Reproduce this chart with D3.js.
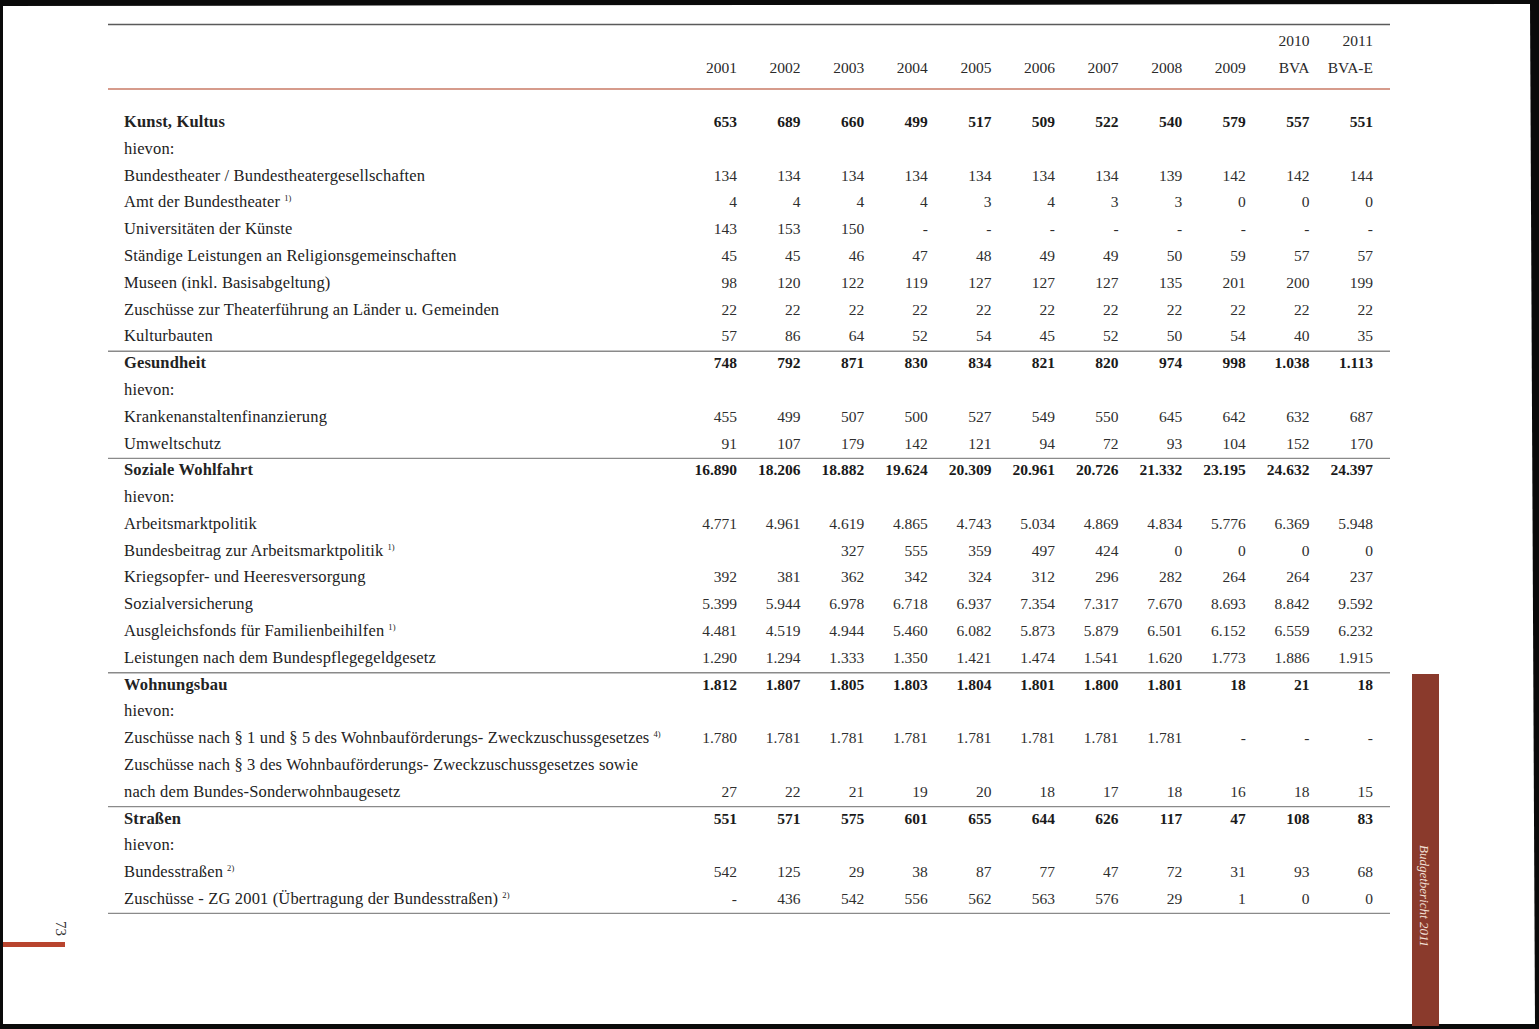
<!DOCTYPE html>
<html><head><meta charset="utf-8">
<script src="https://cdn.jsdelivr.net/npm/d3@7"></script>
<style>html,body{margin:0;padding:0;background:#000;}svg{display:block;}</style>
</head><body>
<script>
// ---- DATA ----
const yearsTop = ["", "", "", "", "", "", "", "", "", "2010", "2011"];
const yearsBottom = ["2001", "2002", "2003", "2004", "2005", "2006", "2007", "2008", "2009", "BVA", "BVA-E"];

const rowLabels = [
  "Kunst, Kultus", "hievon:", "Bundestheater / Bundestheatergesellschaften", "Amt der Bundestheater",
  "Universitäten der Künste", "Ständige Leistungen an Religionsgemeinschaften", "Museen (inkl. Basisabgeltung)",
  "Zuschüsse zur Theaterführung an Länder u. Gemeinden", "Kulturbauten",
  "Gesundheit", "hievon:", "Krankenanstaltenfinanzierung", "Umweltschutz",
  "Soziale Wohlfahrt", "hievon:", "Arbeitsmarktpolitik", "Bundesbeitrag zur Arbeitsmarktpolitik",
  "Kriegsopfer- und Heeresversorgung", "Sozialversicherung", "Ausgleichsfonds für Familienbeihilfen",
  "Leistungen nach dem Bundespflegegeldgesetz",
  "Wohnungsbau", "hievon:", "Zuschüsse nach § 1 und § 5 des Wohnbauförderungs- Zweckzuschussgesetzes",
  "Zuschüsse nach § 3 des Wohnbauförderungs- Zweckzuschussgesetzes sowie", "nach dem Bundes-Sonderwohnbaugesetz",
  "Straßen", "hievon:", "Bundesstraßen", "Zuschüsse - ZG 2001 (Übertragung der Bundesstraßen)"
];
const rowFootnotes = ["", "", "", "1)", "", "", "", "", "", "", "", "", "", "", "", "", "1)", "", "", "1)", "",
  "", "", "4)", "", "", "", "", "2)", "2)"];
const rowBold = [1,0,0,0,0,0,0,0,0, 1,0,0,0, 1,0,0,0,0,0,0,0, 1,0,0,0,0, 1,0,0,0];
// section separators are drawn above these rows, and below the last row
const sectionStarts = [9, 13, 21, 26];

const U = undefined; // blank cell, null = "-"
const rowValues = [
  [653, 689, 660, 499, 517, 509, 522, 540, 579, 557, 551],
  [],
  [134, 134, 134, 134, 134, 134, 134, 139, 142, 142, 144],
  [4, 4, 4, 4, 3, 4, 3, 3, 0, 0, 0],
  [143, 153, 150, null, null, null, null, null, null, null, null],
  [45, 45, 46, 47, 48, 49, 49, 50, 59, 57, 57],
  [98, 120, 122, 119, 127, 127, 127, 135, 201, 200, 199],
  [22, 22, 22, 22, 22, 22, 22, 22, 22, 22, 22],
  [57, 86, 64, 52, 54, 45, 52, 50, 54, 40, 35],
  [748, 792, 871, 830, 834, 821, 820, 974, 998, 1038, 1113],
  [],
  [455, 499, 507, 500, 527, 549, 550, 645, 642, 632, 687],
  [91, 107, 179, 142, 121, 94, 72, 93, 104, 152, 170],
  [16890, 18206, 18882, 19624, 20309, 20961, 20726, 21332, 23195, 24632, 24397],
  [],
  [4771, 4961, 4619, 4865, 4743, 5034, 4869, 4834, 5776, 6369, 5948],
  [U, U, 327, 555, 359, 497, 424, 0, 0, 0, 0],
  [392, 381, 362, 342, 324, 312, 296, 282, 264, 264, 237],
  [5399, 5944, 6978, 6718, 6937, 7354, 7317, 7670, 8693, 8842, 9592],
  [4481, 4519, 4944, 5460, 6082, 5873, 5879, 6501, 6152, 6559, 6232],
  [1290, 1294, 1333, 1350, 1421, 1474, 1541, 1620, 1773, 1886, 1915],
  [1812, 1807, 1805, 1803, 1804, 1801, 1800, 1801, 18, 21, 18],
  [],
  [1780, 1781, 1781, 1781, 1781, 1781, 1781, 1781, null, null, null],
  [],
  [27, 22, 21, 19, 20, 18, 17, 18, 16, 18, 15],
  [551, 571, 575, 601, 655, 644, 626, 117, 47, 108, 83],
  [],
  [542, 125, 29, 38, 87, 77, 47, 72, 31, 93, 68],
  [null, 436, 542, 556, 562, 563, 576, 29, 1, 0, 0]
];
const sideTitle = "Budgetbericht 2011";
const pageNumber = "73";

// ---- DRAW ----
const W = 1539, H = 1029;
const svg = d3.select("body").append("svg").attr("width", W).attr("height", H);
// scanned page: black border around white page
svg.append("rect").attr("width", W).attr("height", H).attr("fill", "#0a0a0a");
svg.append("path").attr("d", "M3,6 L1530,4 L1535,1024 L3,1024 Z").attr("fill", "#ffffff");

const FONT = "'Liberation Serif', 'DejaVu Serif', serif";
const FS = 15.5, LFS = 16.5;
const de = d3.formatLocale({decimal: ",", thousands: ".", grouping: [3], currency: ["", "€"]});
const fmt = de.format(",d");

const x = d3.scalePoint().domain(d3.range(yearsBottom.length)).range([737, 1373]);
const y = d3.scaleLinear().domain([0, rowLabels.length - 1]).range([122, 899]);
const pitch = y(1) - y(0);
const left = 108, right = 1390, labelX = 124;

// header
svg.append("line").attr("x1", left).attr("x2", right).attr("y1", 24.5).attr("y2", 24.5)
  .attr("stroke", "#5a5a5a").attr("stroke-width", 1.3);
svg.append("line").attr("x1", left).attr("x2", right).attr("y1", 89).attr("y2", 89)
  .attr("stroke", "#c97a66").attr("stroke-width", 1.6);
const hdr = svg.append("g").attr("font-family", FONT).attr("font-size", FS).attr("fill", "#2a2a2a")
  .attr("text-anchor", "end");
hdr.selectAll("text.t").data(yearsTop).join("text").attr("class", "t")
  .attr("x", (d, i) => x(i)).attr("y", 46).text(d => d);
hdr.selectAll("text.b").data(yearsBottom).join("text").attr("class", "b")
  .attr("x", (d, i) => x(i)).attr("y", 73).text(d => d);

// separators
const sepYs = sectionStarts.map(i => y(i) - pitch / 2 + 1.5).concat([y(rowLabels.length - 1) + pitch / 2 + 1]);
svg.selectAll("line.sep").data(sepYs).join("line").attr("class", "sep")
  .attr("x1", left).attr("x2", right).attr("y1", d => d).attr("y2", d => d)
  .attr("stroke", "#8a8a8a").attr("stroke-width", 1.3);

// rows
const rows = svg.append("g").attr("font-family", FONT).attr("font-size", FS).attr("fill", "#222");
const rowG = rows.selectAll("g.row").data(rowLabels).join("g").attr("class", "row")
  .attr("transform", (d, i) => `translate(0,${y(i) + 5})`)
  .attr("font-weight", (d, i) => rowBold[i] ? "bold" : "normal");
const lab = rowG.append("text").attr("x", labelX).attr("font-size", LFS).attr("letter-spacing", 0.15);
lab.append("tspan").text(d => d);
lab.append("tspan").attr("font-size", 8.5).attr("dx", 4).attr("dy", -6)
  .attr("font-weight", "normal").text((d, i) => rowFootnotes[i]);
rowG.each(function(d, i) {
  d3.select(this).selectAll("text.v").data(rowValues[i]).join("text").attr("class", "v")
    .attr("x", (v, j) => x(j)).attr("text-anchor", "end")
    .attr("fill", rowBold[i] ? "#1a1a1a" : "#2e2e2e")
    .text(v => v === undefined ? "" : v === null ? "-" : fmt(v));
});

// side bar
svg.append("rect").attr("x", 1412).attr("y", 674).attr("width", 27).attr("height", 352).attr("fill", "#8a3a2c");
svg.append("text").attr("transform", "translate(1420,845) rotate(90)")
  .attr("font-family", FONT).attr("font-style", "italic").attr("font-size", 13)
  .attr("fill", "#f3e1d8").text(sideTitle);

// page number marker
svg.append("rect").attr("x", 3).attr("y", 942).attr("width", 62).attr("height", 5).attr("fill", "#b8442e");
svg.append("text").attr("transform", "translate(56,921) rotate(90)")
  .attr("font-family", FONT).attr("font-size", 15).attr("fill", "#333").text(pageNumber);
</script>
</body></html>
